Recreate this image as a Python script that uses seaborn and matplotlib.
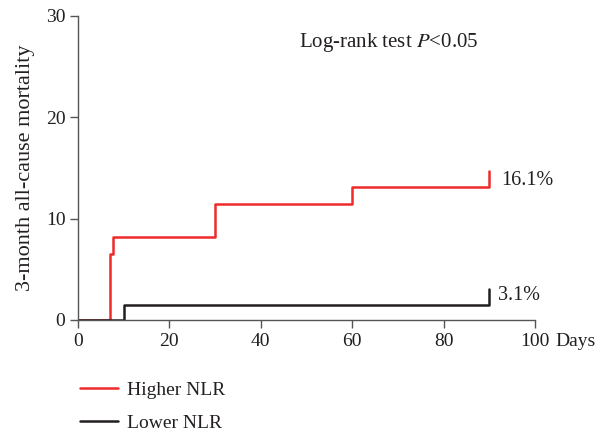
import matplotlib
matplotlib.use("Agg")
import matplotlib.pyplot as plt
import seaborn as sns
import pandas as pd

# Data
higher_days = [0, 7, 7.7, 30, 60, 90, 90]
higher_mort = [0, 6.5, 8.2, 11.4, 13.1, 13.1, 14.7]
lower_days = [0, 10, 90, 90]
lower_mort = [0, 1.5, 1.5, 3.1]
groups = ["Higher NLR", "Lower NLR"]
end_labels = ["16.1%", "3.1%"]
x_ticks = [0, 20, 40, 60, 80, 100]
y_ticks = [0, 10, 20, 30]

sns.set_style("ticks")
plt.rcParams["font.family"] = ["Liberation Serif", "DejaVu Serif"]
plt.rcParams["mathtext.fontset"] = "stix"

TXT = "#231f20"

df = pd.concat([
    pd.DataFrame({"day": higher_days, "mort": higher_mort, "group": groups[0]}),
    pd.DataFrame({"day": lower_days, "mort": lower_mort, "group": groups[1]}),
], ignore_index=True)

fig = plt.figure(figsize=(5.99, 4.34), dpi=100)
ax = fig.add_axes([78/599, 1-320/434, (535-78)/599, (320-16)/434])

palette = {groups[0]: "#ee2a2a", groups[1]: TXT}
sns.lineplot(data=df, x="day", y="mort", hue="group", palette=palette,
             estimator=None, sort=False, drawstyle="steps-post",
             linewidth=1.8, ax=ax, legend=True)

ax.set_xlim(0, 100)
ax.set_ylim(0, 30)
ax.set_xticks(x_ticks)
ax.set_yticks(y_ticks)
ax.set_xlabel("")
ax.set_ylabel("3-month all-cause mortality", fontsize=16, color=TXT, labelpad=8)
spine_c = "#555555"
for s in ["top", "right"]:
    ax.spines[s].set_visible(False)
for s in ["left", "bottom"]:
    ax.spines[s].set_color(spine_c)
    ax.spines[s].set_linewidth(1.0)
ax.tick_params(axis="both", direction="out", length=6, width=1.0, color=spine_c,
               labelsize=14, labelcolor=TXT, pad=3)

ax.annotate("Days", xy=(100, 0), xycoords="data", xytext=(15, -9),
            textcoords="offset points", fontsize=14, color=TXT,
            ha="left", va="top")

ax.text(92.6, 13.8, end_labels[0], fontsize=14.5, color=TXT,
        va="center", ha="left")
ax.text(91.9, 2.4, end_labels[1], fontsize=14.5, color=TXT,
        va="center", ha="left")

ax.text(67.9, 27.4, "Log-rank test $P$<0.05", fontsize=15, color=TXT,
        ha="center", va="center")

handles, labels = ax.get_legend_handles_labels()
ax.get_legend().remove()
fig.legend(handles, labels, loc="upper left", bbox_to_anchor=(80/599, 1-381/434),
           frameon=False, fontsize=14, handlelength=1.95, handletextpad=0.45,
           labelspacing=0.8, borderpad=0, borderaxespad=0,
           labelcolor=TXT)

fig.savefig("out.png", dpi=100)
